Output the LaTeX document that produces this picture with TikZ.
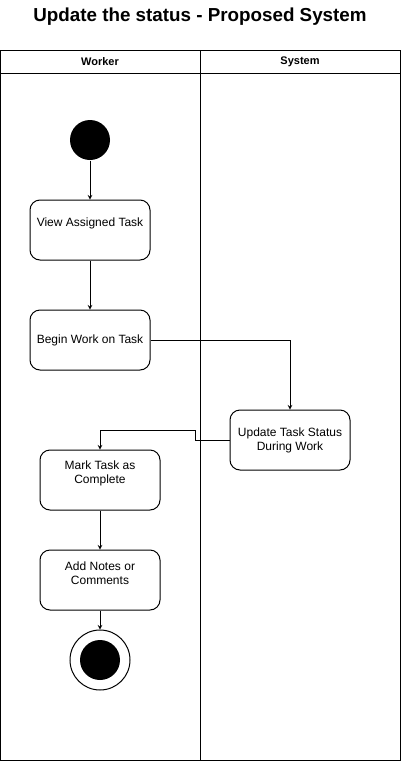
\documentclass[tikz,border=0pt]{standalone}
\usepackage{fontspec}
\setmainfont{Liberation Sans}
\usepackage{tikz}
\usetikzlibrary{positioning, shapes}
\usetikzlibrary{arrows}

\tikzset{
	task/.style={draw, rounded corners=10pt, minimum width=120pt, minimum height=60pt, align=center, font=\fontsize{12}{14}\selectfont},
	lbl/.style={align=center, font=\fontsize{12}{14}\selectfont, yshift=7pt},
	lane/.style={font=\bfseries\fontsize{11}{13}\selectfont}
}

\begin{document}
\begin{tikzpicture}[x=1pt,y=-1pt,->,>=stealth,line width=1pt]

		\useasboundingbox (0,0) rectangle (401,761);

		% title and swimlanes
		\node[font=\bfseries\fontsize{18.8}{22}\selectfont] (title) at (200,17) {Update the status - Proposed System};
		\draw[-] (0.5,50.5) rectangle (400.5,760.5);
		\draw[-] (0.5,73) -- (400.5,73);
		\draw[-] (200.5,50.5) -- (200.5,760.5);
		\node[lane] (worker) at (100,62) {Worker};
		\node[lane] (system) at (300,62) {System};

		% activities
		\node[circle,fill=black,minimum size=40pt,inner sep=0pt] (start) at (90,140) {};
		\node[task, label={[lbl]center:View Assigned Task}] (view) at (90,230) {};
		\node[task] (begin) at (90,340) {Begin Work on Task};
		\node[task] (update) at (290,440) {Update Task Status\\During Work};
		\node[task, label={[lbl]center:{Mark Task as\\Complete}}] (mark) at (100,480) {};
		\node[task, label={[lbl]center:{Add Notes or\\Comments}}] (notes) at (100,580) {};
		\node[circle,draw,minimum size=60pt,inner sep=0pt] (finish) at (100,660) {};
		\node[circle,fill=black,minimum size=40pt,inner sep=0pt] (finishdot) at (finish.center) {};

		\path (start) edge node {} (view);
		\path (view) edge node {} (begin);
		\draw (begin.east) -| (update.north);
		\draw (update.west) -- (195,440) -- (195,430) -| (mark.north);
		\path (mark) edge node {} (notes);
		\path (notes) edge node {} (finish);

	\end{tikzpicture}
\end{document}
